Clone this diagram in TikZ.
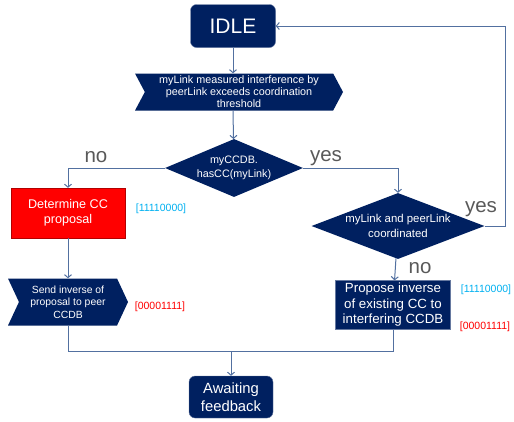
\documentclass[tikz,border=0pt]{standalone}
\usepackage{fontspec}
\setmainfont{Liberation Sans}
\usepackage{xcolor}
\usetikzlibrary{positioning,arrows.meta,shapes,calc}

\definecolor{navy}{HTML}{002060}
\definecolor{flowline}{HTML}{5270A0}
\definecolor{bitblue}{HTML}{00B0F0}
\definecolor{bitred}{HTML}{FF0000}
\definecolor{answer}{HTML}{595959}

\begin{document}
\begin{tikzpicture}[x=1pt,y=-1pt,
    state/.style={draw=navy!60,fill=navy,text=white,rounded corners=6pt,align=center,inner sep=2pt},
    event/.style={shape=signal,signal to=east,signal from=west,fill=navy,text=white,align=center,inner sep=1pt},
    decision/.style={shape=diamond,fill=navy,text=white,align=center,inner sep=0pt},
    action/.style={draw=navy!60,fill=navy,text=white,align=center,inner sep=2pt},
    flow/.style={draw=flowline,line width=1pt,-{Straight Barb[length=3pt,width=7pt]}},
    answertext/.style={text=answer,font=\fontsize{20.5}{20}\selectfont},
    bits/.style={font=\fontsize{10.5}{11}\selectfont}]
    \useasboundingbox (0,0) rectangle (514,421);

    % States
    \node[state,minimum width=85pt,minimum height=43pt,font=\fontsize{21}{21}\selectfont] (idle) at (233,26) {IDLE};
    \node[state,minimum width=84pt,minimum height=42pt,font=\fontsize{14.8}{18}\selectfont] (wait) at (231,397) {Awaiting\\feedback};

    % Trigger
    \node[event,minimum width=208pt,minimum height=37pt,signal pointer angle=124,font=\fontsize{10.8}{12}\selectfont] (trig) at (239,92)
        {myLink measured interference by\\peerLink exceeds coordination\\threshold};

    % Decisions
    \node[decision,aspect=2.38,minimum width=138pt,minimum height=58pt,font=\fontsize{10.8}{14}\selectfont] (hascc) at (234,168) {myCCDB.\\hasCC(myLink)};
    \node[decision,aspect=2.6,inner xsep=-3pt,minimum width=173pt,minimum height=66pt,font=\fontsize{11.4}{15}\selectfont] (coord) at (398,226) {myLink and peerLink\\coordinated};

    % Actions
    \node[action,fill=red,draw=red!70!black,minimum width=114pt,minimum height=50pt,font=\fontsize{12.6}{15}\selectfont] (det) at (68,213) {Determine CC\\proposal};
    \node[event,minimum width=120pt,minimum height=47pt,signal pointer angle=130,font=\fontsize{10.4}{12.7}\selectfont] (send) at (68,302)
        {Send inverse of\\proposal to peer\\CCDB};
    \node[action,minimum width=115pt,minimum height=49pt,font=\fontsize{13.3}{15.5}\selectfont] (prop) at (393,305)
        {Propose inverse\\of existing CC to\\interfering CCDB};

    % Bit masks
    \node[bits,text=bitblue] (b1) at (161,209) {[11110000]};
    \node[bits,text=bitred] (b2) at (160,307) {[00001111]};
    \node[bits,text=bitblue] (b3) at (486,290) {[11110000]};
    \node[bits,text=bitred] (b4) at (485,327) {[00001111]};

    % Answers
    \node[answertext] (no1) at (96,157) {no};
    \node[answertext] (yes1) at (326,158) {yes};
    \node[answertext] (yes2) at (481,209) {yes};
    \node[answertext] (no2) at (420,268) {no};

    % Connectors
    \coordinate (back) at (505,26);
    \coordinate (join) at (231,351);
    \draw[flow] (idle) -- (idle |- trig.north);
    \draw[flow] (idle |- trig.south) -- (hascc);
    \draw[flow] (hascc.west) -| (det);
    \draw[flow] (hascc.east) -| (coord);
    \draw[flow] (coord.east) -| (back) -- (idle.east);
    \draw[flow] (det) -- (send);
    \draw[flow] (coord) -- (prop);
    \draw[flow] (send.south) |- (join) -- (wait);
    \draw[draw=flowline,line width=1pt] (prop.south) |- (join);
\end{tikzpicture}
\end{document}
